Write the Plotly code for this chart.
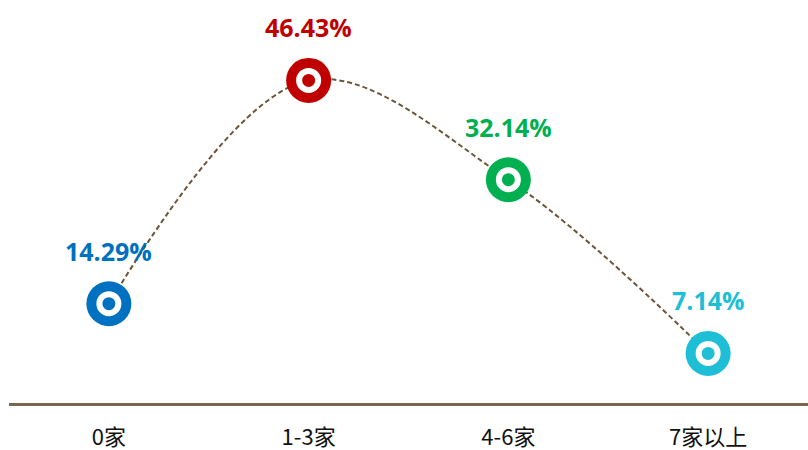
import plotly.graph_objects as go

categories = ["0家", "1-3家", "4-6家", "7家以上"]
values = [14.29, 46.43, 32.14, 7.14]
labels = ["14.29%", "46.43%", "32.14%", "7.14%"]
colors = ["#0070c0", "#c00000", "#00b050", "#1ebfd6"]

fig = go.Figure()
fig.add_trace(go.Scatter(
    x=categories, y=values, mode="lines",
    line=dict(color="#6e5538", width=2, dash="5px,3px", shape="spline", smoothing=1.0),
    hoverinfo="skip", showlegend=False))
fig.add_trace(go.Scatter(
    x=categories, y=values, mode="markers",
    marker=dict(size=45, color=colors, line=dict(width=0)),
    showlegend=False, cliponaxis=False))
fig.add_trace(go.Scatter(
    x=categories, y=values, mode="markers",
    marker=dict(size=19, color=colors, line=dict(width=6, color="white")),
    showlegend=False, cliponaxis=False))

for c, v, t, col in zip(categories, values, labels, colors):
    fig.add_annotation(x=c, y=v, text=t, showarrow=False, yshift=53,
                       font=dict(family="Open Sans", size=25, color=col, weight="bold"))

fig.update_layout(
    width=808, height=450,
    margin=dict(l=9, r=0, t=0, b=47),
    plot_bgcolor="white", paper_bgcolor="white",
    xaxis=dict(range=[-0.5, 3.5], showgrid=False, zeroline=False,
               showline=True, linecolor="#7b6650", linewidth=3,
               ticks="", ticklabelstandoff=13,
               tickfont=dict(family="Noto Sans CJK SC", size=22, color="#111111")),
    yaxis=dict(range=[0, 58], visible=False, showgrid=False, zeroline=False),
)
fig.write_html("out.html", config={"displayModeBar": False},
               post_script="document.body.style.margin='0';document.body.style.overflow='hidden';")
